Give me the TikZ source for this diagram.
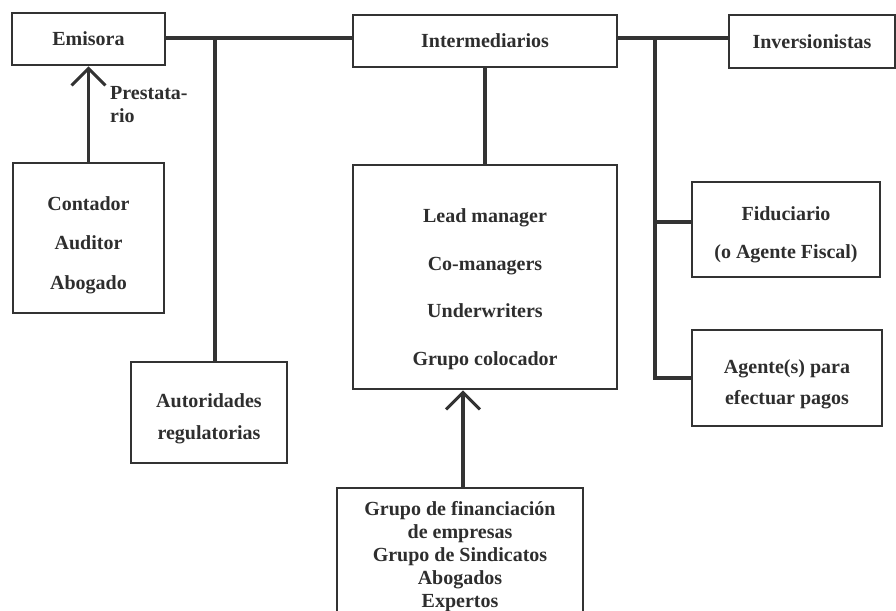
\documentclass[tikz,border=0pt]{standalone}
\usepackage{fontspec}
\setmainfont{Liberation Serif}
\usetikzlibrary{arrows.meta}
\definecolor{ink}{HTML}{333333}
\begin{document}
\begin{tikzpicture}[x=1pt,y=-1pt,
  box/.style={draw=ink,line width=2.6pt,rectangle,inner sep=0pt,align=center,text=ink!90!black,
    font=\fontsize{20}{24}\selectfont\bfseries},
  txt/.style={inner sep=0pt,align=center,text=ink!90!black},
  conn/.style={draw=ink,line width=3.2pt},
  arr/.style={conn,-{Straight Barb[length=17pt,width=34pt,line width=3pt]}},
  lbl/.style={text=ink!90!black,font=\fontsize{20}{23}\selectfont\bfseries,align=left,inner sep=0pt}]
\useasboundingbox (0,0) rectangle (896,610);
\clip (0,0) rectangle (896,610);
% top row
\node[box,minimum width=153pt,minimum height=52pt] (emisora) at (88.5,39) {Emisora};
\node[box,minimum width=264pt,minimum height=52pt] (inter) at (485,41) {Intermediarios};
\node[box,minimum width=166pt,minimum height=53pt] (inver) at (812,41.5) {Inversionistas};
% left column
\node[box,minimum width=151pt,minimum height=150pt] (contador) at (88.5,238) {};
\node[txt,font=\fontsize{20}{39.5}\selectfont\bfseries] (contadort) at (88.5,245) {Contador\\Auditor\\Abogado};
\node[box,minimum width=156pt,minimum height=101pt] (autoridades) at (209,412.5) {};
\node[txt,font=\fontsize{20}{32}\selectfont\bfseries] (autoridadest) at (209,419) {Autoridades\\regulatorias};
% centre column
\node[box,minimum width=264pt,minimum height=224pt] (lead) at (485,277) {};
\node[txt,font=\fontsize{20}{47.5}\selectfont\bfseries] (leadt) at (485,289) {Lead manager\\Co-managers\\Underwriters\\Grupo colocador};
\node[box,minimum width=246pt,minimum height=137pt] (grupo) at (460,556.5) {};
\node[txt,font=\fontsize{20}{23}\selectfont\bfseries] (grupot) at (460,556.5) {Grupo de financiación\\de empresas\\Grupo de Sindicatos\\Abogados\\Expertos};
% right column
\node[box,minimum width=188pt,minimum height=95pt] (fiduciario) at (786,229.5) {};
\node[txt,font=\fontsize{20}{38}\selectfont\bfseries] (fiduciariot) at (786,234.5) {Fiduciario\\(o Agente Fiscal)};
\node[box,minimum width=190pt,minimum height=96pt] (agentes) at (787,378) {};
\node[txt,font=\fontsize{20}{31}\selectfont\bfseries] (agentest) at (787,384) {Agente(s) para\\efectuar pagos};
% label
\node[lbl,anchor=west] (prest) at (110,105) {Prestata-\\rio};
% connectors
\coordinate (j1) at (215,38);
\coordinate (j2) at (655,38);
\draw[conn] (emisora.east |- j1) -- (inter.west |- j1);
\draw[conn] (j1) -- (j1 |- autoridades.north);
\draw[conn] (inter.east |- j2) -- (inver.west |- j2);
\draw[conn] (inter.south) -- (lead.north);
\draw[conn] (j2) |- (agentes.west);
\draw[conn] (j2 |- 0,222) -- (fiduciario.west |- 0,222);
\draw[arr] (contador.north) -- (emisora.south);
\draw[arr] ([xshift=3pt]grupo.north) -- ([xshift=3pt]grupo.north |- lead.south);
\end{tikzpicture}
\end{document}
